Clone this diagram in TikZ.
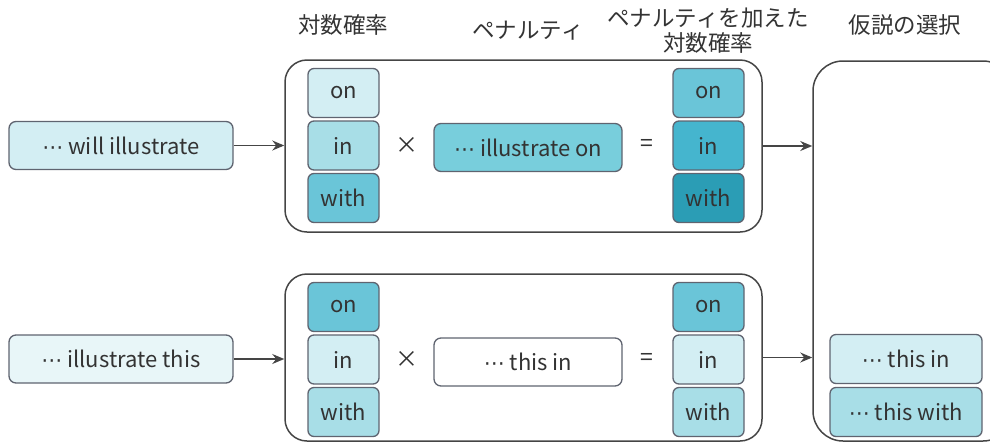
\documentclass[tikz,border=0pt]{standalone}
\usepackage{fontspec}
\setmainfont{Noto Sans CJK JP}
\newfontfamily\dvs{DejaVu Sans}
\usetikzlibrary{arrows.meta}
\definecolor{bd}{HTML}{5F6470}
\definecolor{gb}{HTML}{454545}
\definecolor{tx}{HTML}{333333}
\definecolor{cA}{HTML}{D3EEF3}
\definecolor{cB}{HTML}{A8DEE7}
\definecolor{cC}{HTML}{6AC5D8}
\definecolor{cD}{HTML}{45B5CE}
\definecolor{cE}{HTML}{2B9DB5}
\definecolor{cM}{HTML}{78CEDC}
\definecolor{cL}{HTML}{E8F6F8}
\tikzset{
  word/.style={draw=bd, line width=1.3pt, rounded corners=6pt, minimum width=71pt, minimum height=49pt, inner sep=0pt, text=tx, font=\fontsize{22}{24}\selectfont},
  inbox/.style={draw=bd, line width=1.3pt, rounded corners=7pt, minimum height=48pt, inner sep=0pt, text=tx, font=\fontsize{22}{24}\selectfont},
  group/.style={draw=gb, line width=1.5pt, rounded corners=22pt, inner sep=0pt},
  op/.style={text=tx, font=\fontsize{23}{25}\selectfont, inner sep=0pt},
  head/.style={text=tx, font=\fontsize{22.5}{25}\selectfont, align=center, inner sep=0pt},
  arr/.style={draw=gb, line width=1.4pt, -{Stealth[length=12pt,width=10pt,inset=4pt]}}
}
\newcommand{\dd}{{\dvs\fontsize{21}{24}\selectfont ⋯}}
\begin{document}
\begin{tikzpicture}[x=1pt,y=-1pt]
\clip (0,0) rectangle (990,445);
\useasboundingbox (0,0) rectangle (990,445);
% headers
\node[head] (h1) at (343,25) {対数確率};
\node[head] (h2) at (528,31) {ペナルティ};
\node[head] (h3) at (708,31) {ペナルティを加えた\\対数確率};
\node[head] (h4) at (905,25) {仮説の選択};
% left inputs
\node[inbox, fill=cA, minimum width=224pt] (l1) at (121,145.5) {\dd\ will illustrate};
\node[inbox, fill=cL, minimum width=224pt] (l2) at (121,359) {\dd\ illustrate this};
% groups
\node[group, minimum width=477pt, minimum height=172pt] (g1) at (523.5,146) {};
\node[group, minimum width=477pt, minimum height=167pt] (g2) at (523.5,357.5) {};
% big right box
\node[draw=gb, line width=1.5pt, rounded corners=30pt, minimum width=200pt, minimum height=380pt, inner sep=0pt] (big) at (913,251) {};
% group 1
\node[word, fill=cA] (a1) at (343.5,93) {on};
\node[word, fill=cB] (a2) at (343.5,145.5) {in};
\node[word, fill=cC] (a3) at (343.5,198) {with};
\node[op] (x1) at (407,145) {×};
\node[inbox, fill=cM, minimum width=188pt] (m1) at (528,147.5) {\dd\ illustrate on};
\node[op] (e1) at (647,145) {=};
\node[word, fill=cC] (b1) at (708.5,93) {on};
\node[word, fill=cD] (b2) at (708.5,145.5) {in};
\node[word, fill=cE] (b3) at (708.5,198) {with};
% group 2
\node[word, fill=cC] (c1) at (343.5,307) {on};
\node[word, fill=cA] (c2) at (343.5,359.5) {in};
\node[word, fill=cB] (c3) at (343.5,412) {with};
\node[op] (x2) at (407,359) {×};
\node[inbox, fill=white, minimum width=188pt] (m2) at (528,362) {\dd\ this in};
\node[op] (e2) at (647,359) {=};
\node[word, fill=cC] (d1) at (708.5,307) {on};
\node[word, fill=cA] (d2) at (708.5,359.5) {in};
\node[word, fill=cB] (d3) at (708.5,412) {with};
% hypotheses
\node[word, fill=cA, minimum width=152pt] (s1) at (906,359) {\dd\ this in};
\node[word, fill=cB, minimum width=152pt] (s2) at (906,412) {\dd\ this with};
% arrows
\draw[arr] (l1.east) -- (l1.east -| g1.west);
\draw[arr] (l2.east) -- (l2.east -| g2.west);
\draw[arr] (g1.east) -- (g1.east -| big.west);
\draw[arr] (g2.east) -- (g2.east -| big.west);
\end{tikzpicture}
\end{document}
